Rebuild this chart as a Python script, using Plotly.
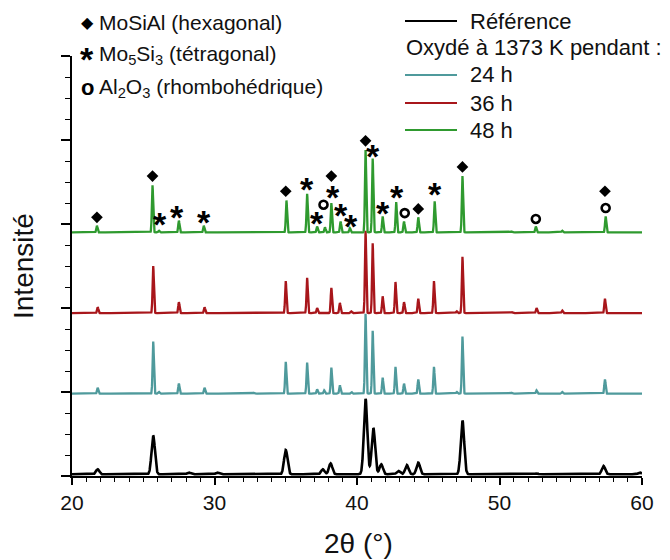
import numpy as np
import plotly.graph_objects as go

# ---------------- data ----------------
# peak positions (2theta, deg) and peak heights (a.u.) for each pattern
ref_pos = [21.8, 25.7, 28.2, 30.2, 35.0, 37.6, 38.15, 40.6, 41.15, 41.7, 42.9, 43.5, 44.3, 47.4, 52.6, 57.3, 59.85]
ref_int = [6, 46, 2, 2, 29, 6, 13, 90, 55, 12, 4, 11, 14, 64, 1, 10, 2]

h24_pos = [21.8, 25.7, 26.1, 27.5, 29.3, 32.8, 35.0, 36.5, 37.2, 37.7, 38.2, 38.8, 39.6,
           40.6, 41.1, 41.8, 42.7, 43.3, 44.3, 45.4, 47.0, 47.4, 50.9, 52.6, 54.4, 57.4]
h24_int = [7, 62, 2, 12, 7, 1, 38, 37, 5, 4, 31, 10, 2,
           95, 75, 19, 32, 12, 17, 32, 2, 68, 1, 4, 2, 17]

h36_pos = [21.8, 25.7, 27.5, 29.3, 35.0, 36.5, 37.2, 38.2, 38.8, 39.6,
           40.6, 41.1, 41.8, 42.7, 43.3, 44.3, 45.4, 47.0, 47.4, 50.9, 52.6, 54.4, 57.4]
h36_int = [7, 56, 13, 7, 38, 42, 6, 30, 12, 2,
           98, 83, 20, 37, 13, 17, 38, 2, 67, 1, 6, 3, 17]

h48_pos = [21.75, 25.65, 26.1, 27.5, 29.25, 35.05, 36.5, 37.2, 37.75, 38.2, 38.85, 39.5,
           40.6, 41.1, 41.8, 42.75, 43.3, 44.3, 45.45, 47.4, 50.9, 52.55, 54.4, 57.45]
h48_int = [8, 56, 2, 14, 8, 38, 46, 7, 6, 35, 13, 5,
           98, 88, 19, 36, 13, 18, 37, 67, 1, 7, 2, 19]

series_names = ["Référence", "24 h", "36 h", "48 h"]
series_offsets = [2, 98, 194, 290]

# phase markers (2theta, vertical position in a.u.)
mosial_x = [21.75, 25.65, 35.0, 38.2, 40.6, 44.3, 47.4, 57.4]
mosial_y = [308, 357, 339, 357, 399, 318, 368, 339]
mo5si3_x = [26.15, 27.4, 29.25, 36.47, 37.2, 38.3, 38.9, 39.6, 41.1, 41.8, 42.8, 45.45]
mo5si3_y = [305, 313, 307, 346, 306, 337, 315, 302, 386, 318, 337, 340]
al2o3_x = [37.65, 43.35, 52.55, 57.45]
al2o3_y = [323, 313, 306, 319]

x_ticks = [20, 30, 40, 50, 60]

# ---------------- styling ----------------
FONT = "Liberation Sans, Arial, sans-serif"
colors = ["#000000", "#4f9a9c", "#a8161b", "#2f9a2f"]
widths = [2.6, 2.3, 2.3, 2.3]
sigmas = [0.12, 0.045, 0.045, 0.045]
STAR_SIZE, STAR_SHIFT = 34, -4

x = np.round(np.arange(20, 60.0001, 0.01), 3)


def pattern(pos, inten, sigma, offset):
    y = np.full_like(x, float(offset))
    for p, h in zip(pos, inten):
        y += h * np.exp(-((x - p) ** 2) / (2 * sigma ** 2))
    return y


fig = go.Figure()
all_pos = [ref_pos, h24_pos, h36_pos, h48_pos]
all_int = [ref_int, h24_int, h36_int, h48_int]
for name, pos, inten, sig, off, col, w in zip(series_names, all_pos, all_int, sigmas,
                                             series_offsets, colors, widths):
    fig.add_trace(go.Scatter(x=x, y=pattern(pos, inten, sig, off), mode="lines", name=name,
                             line=dict(color=col, width=w), showlegend=False, hoverinfo="skip"))

fig.add_trace(go.Scatter(x=mosial_x, y=mosial_y, mode="markers", showlegend=False,
                         marker=dict(symbol="diamond", size=9, color="black", line=dict(width=0))))
fig.add_trace(go.Scatter(x=al2o3_x, y=al2o3_y, mode="markers", showlegend=False,
                         marker=dict(symbol="circle-open", size=8, color="black", line=dict(width=2.6))))

annotations = []
for sx, sy in zip(mo5si3_x, mo5si3_y):
    annotations.append(dict(x=sx, y=sy, xref="x", yref="y", text="<b>*</b>", showarrow=False,
                            font=dict(family=FONT, size=STAR_SIZE, color="black"),
                            yshift=STAR_SHIFT))

# the page adds an 8 px body margin; positions below are screen pixels
OFF = 8
FIG_W, FIG_H = 670 - OFF, 560 - OFF
W0, H0 = 72 - OFF, 476 - OFF  # plot origin in figure pixels
PW, PH = 570, 420


def px(xs):
    return (xs - OFF - W0) / PW


def py(ys):
    return (H0 - (ys - OFF)) / PH


# left legend (phases)
left_items = [("◆", "MoSiAl (hexagonal)", 22),
              ("<b>*</b>", "Mo<sub>5</sub>Si<sub>3</sub> (tétragonal)", 55),
              ("<b>o</b>", "Al<sub>2</sub>O<sub>3</sub> (rhombohédrique)", 88)]
for glyph, label, yp in left_items:
    gsize = 16 if glyph == "◆" else (STAR_SIZE if "*" in glyph else 22)
    gshift = STAR_SHIFT if "*" in glyph else 0
    annotations.append(dict(x=px(87), y=py(yp), xref="paper", yref="paper", text=glyph,
                            showarrow=False, xanchor="center", yanchor="middle", yshift=gshift,
                            font=dict(family="DejaVu Sans, " + FONT if glyph == "◆" else FONT,
                                      size=gsize, color="black")))
    annotations.append(dict(x=px(97), y=py(yp), xref="paper", yref="paper", text=label,
                            showarrow=False, xanchor="left", yanchor="middle",
                            font=dict(family=FONT, size=21, color="#111111")))

# right legend (samples)
shapes = []
right_items = [("Référence", 21, colors[0]), ("24 h", 75, colors[1]),
               ("36 h", 103, colors[2]), ("48 h", 130, colors[3])]
for label, yp, col in right_items:
    shapes.append(dict(type="line", xref="paper", yref="paper", x0=px(405), x1=px(457),
                       y0=py(yp), y1=py(yp), line=dict(color=col, width=2)))
    annotations.append(dict(x=px(468), y=py(yp), xref="paper", yref="paper", text=label,
                            showarrow=False, xanchor="left", yanchor="middle",
                            font=dict(family=FONT, size=22, color="#111111")))
annotations.append(dict(x=px(404), y=py(47), xref="paper", yref="paper",
                        text="Oxydé à 1373 K pendant :", showarrow=False,
                        xanchor="left", yanchor="middle",
                        font=dict(family=FONT, size=22, color="#111111")))

# axis titles
annotations.append(dict(x=px(23), y=py(266), xref="paper", yref="paper", text="Intensité",
                        textangle=-90, showarrow=False, xanchor="center", yanchor="middle",
                        font=dict(family=FONT, size=28, color="#111111")))
annotations.append(dict(x=px(358), y=py(543), xref="paper", yref="paper", text="2θ (°)",
                        showarrow=False, xanchor="center", yanchor="middle",
                        font=dict(family=FONT, size=28, color="#111111")))

fig.update_layout(
    width=FIG_W, height=FIG_H,
    margin=dict(l=W0, r=FIG_W - W0 - PW, t=H0 - PH, b=FIG_H - H0),
    paper_bgcolor="white", plot_bgcolor="white",
    showlegend=False,
    annotations=annotations,
    shapes=shapes,
    xaxis=dict(range=[20, 60], tickvals=x_ticks, ticktext=[str(t) for t in x_ticks],
               ticks="outside", ticklen=7, tickwidth=1.5, tickcolor="black",
               showline=True, linecolor="black", linewidth=2, showgrid=False, zeroline=False,
               tickfont=dict(family=FONT, size=21, color="#111111"),
               minor=dict(dtick=1, ticks="outside", ticklen=4, tickwidth=1.2, tickcolor="black",
                          showgrid=False)),
    yaxis=dict(range=[0, 500], dtick=100, tick0=0, ticks="outside", ticklen=9, tickwidth=1.5,
               tickcolor="black", showticklabels=False,
               showline=True, linecolor="black", linewidth=2, showgrid=False, zeroline=False,
               minor=dict(dtick=25, ticks="outside", ticklen=5, tickwidth=1.2, tickcolor="black",
                          showgrid=False)),
)

fig.write_html("out.html")
